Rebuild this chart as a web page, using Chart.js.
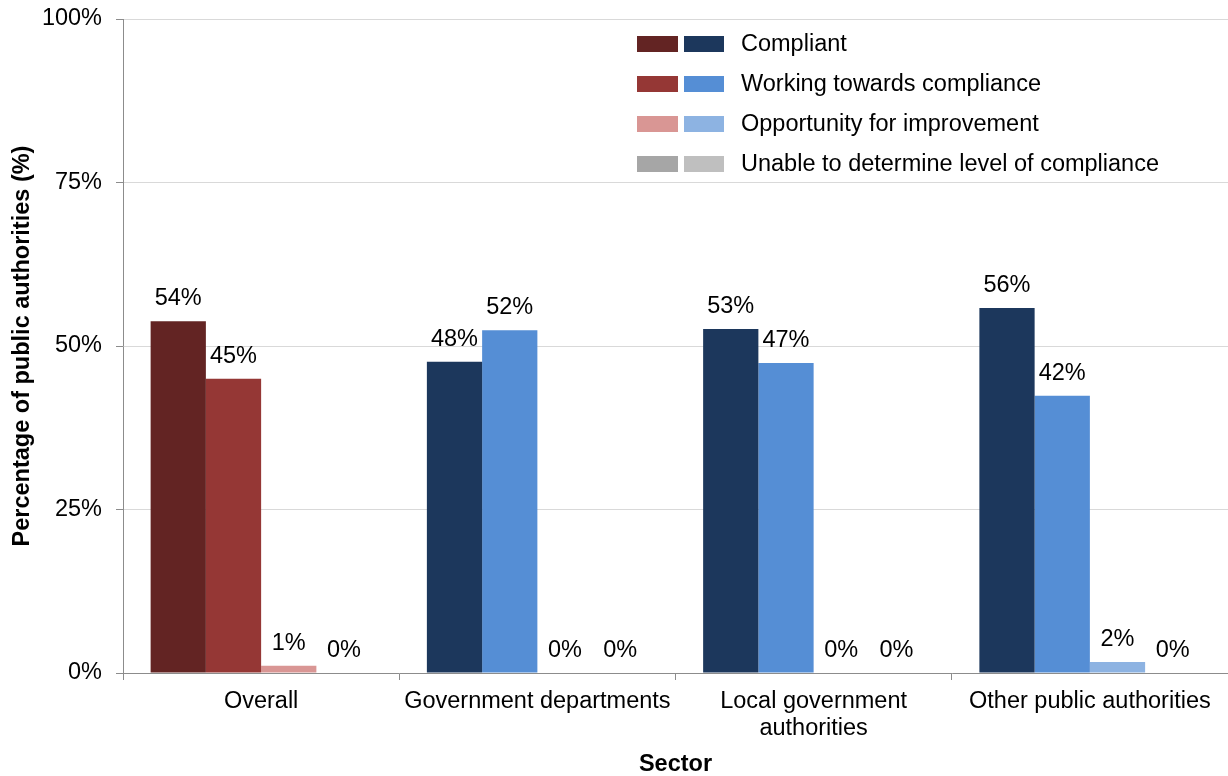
<!DOCTYPE html>
<html>
<head>
<meta charset="utf-8">
<title>Compliance by sector</title>
<script src="https://cdn.jsdelivr.net/npm/chart.js@4.4.1/dist/chart.umd.min.js"></script>
<style>
  html, body { margin: 0; padding: 0; background: #fff; }
  canvas { display: block; }
</style>
</head>
<body>
<canvas id="chart" width="1228" height="776"></canvas>
<script>
// sectors on the x axis
const sectors = ['Overall', 'Government departments', ['Local government', 'authorities'], 'Other public authorities'];

// share of public authorities (%) per level of compliance
const compliant   = [53.8, 47.6, 52.6, 55.8];
const working     = [45.0, 52.4, 47.4, 42.4];
const opportunity = [1.1, 0, 0, 1.7];
const unable      = [0, 0, 0, 0];

const seriesNames = [
    'Compliant',
    'Working towards compliance',
    'Opportunity for improvement',
    'Unable to determine level of compliance'
];

// overall is shown in reds, the individual sectors in blues
const overallColors = ['#632423', '#953735', '#d99694', '#a6a6a6'];
const sectorColors  = ['#1c375c', '#558ed5', '#8db3e2', '#bfbfbf'];

const yTicks = [0, 25, 50, 75, 100];

const FONT = '"Liberation Sans", Arial, Helvetica, sans-serif';
const FONT_SIZE = 23.5;
Chart.defaults.font.family = FONT;
Chart.defaults.font.size = FONT_SIZE;
Chart.defaults.color = '#000';

let values = [compliant, working, opportunity, unable];

let datasets = values.map(function (data, i) {
    return {
        label: seriesNames[i],
        data: data,
        // first category (Overall) gets the red palette
        backgroundColor: sectors.map((s, j) => j === 0 ? overallColors[i] : sectorColors[i]),
        borderWidth: 0,
        categoryPercentage: 0.8,
        barPercentage: 1.0
    };
});

// value labels above every bar
const barLabels = {
    id: 'barLabels',
    afterDatasetsDraw(chart) {
        const ctx = chart.ctx;
        ctx.save();
        ctx.font = FONT_SIZE + 'px ' + FONT;
        ctx.fillStyle = '#000';
        ctx.textAlign = 'center';
        ctx.textBaseline = 'alphabetic';
        chart.data.datasets.forEach(function (ds, i) {
            chart.getDatasetMeta(i).data.forEach(function (bar, j) {
                ctx.fillText(Math.round(ds.data[j]) + '%', bar.x, bar.y - 16);
            });
        });
        ctx.restore();
    }
};

// legend inside the plot: a red and a blue swatch per series
const pairLegend = {
    id: 'pairLegend',
    afterDraw(chart) {
        const ctx = chart.ctx;
        const area = chart.chartArea;
        const x0 = area.left + 514;
        ctx.save();
        ctx.font = FONT_SIZE + 'px ' + FONT;
        ctx.textAlign = 'left';
        ctx.textBaseline = 'middle';
        seriesNames.forEach(function (name, i) {
            const cy = area.top + 25 + i * 40;
            ctx.fillStyle = overallColors[i];
            ctx.fillRect(x0, cy - 8, 41, 16);
            ctx.fillStyle = sectorColors[i];
            ctx.fillRect(x0 + 47, cy - 8, 40, 16);
            ctx.fillStyle = '#000';
            ctx.fillText(name, x0 + 104, cy + 1);
        });
        ctx.restore();
    }
};

chart = new Chart(document.getElementById('chart'), {
    type: 'bar',
    data: { labels: sectors, datasets: datasets },
    options: {
        responsive: false,
        animation: false,
        devicePixelRatio: 1,
        layout: { padding: { top: 19, right: 0, bottom: 0, left: 0 } },
        plugins: {
            legend: { display: false },
            tooltip: { enabled: false }
        },
        scales: {
            x: {
                grid: {
                    offset: true,
                    drawOnChartArea: false,
                    tickLength: 7,
                    tickColor: '#8c8c8c'
                },
                border: { color: '#8c8c8c', width: 1 },
                ticks: {
                    padding: 8,
                    maxRotation: 0,
                    autoSkip: false,
                    font: { size: FONT_SIZE, lineHeight: 1.16 }
                },
                title: {
                    display: true,
                    text: 'Sector',
                    font: { size: FONT_SIZE, weight: 'bold', lineHeight: 1.0 },
                    padding: { top: 0, bottom: 0 }
                },
                afterFit(scale) { scale.height = 103; }
            },
            y: {
                min: 0,
                max: 100,
                afterBuildTicks(scale) {
                    scale.ticks = yTicks.map(v => ({ value: v }));
                },
                grid: {
                    color: '#d9d9d9',
                    tickColor: '#8c8c8c',
                    tickLength: 7
                },
                border: { color: '#8c8c8c', width: 1 },
                ticks: {
                    padding: 14,
                    callback: v => v + '%'
                },
                title: {
                    display: true,
                    text: 'Percentage of public authorities (%)',
                    font: { size: FONT_SIZE, weight: 'bold', lineHeight: 1.0 },
                    padding: { top: 11, bottom: 0 }
                },
                // fixed axis width; the tick padding should not push the plot down
                afterFit(scale) {
                    scale.width = 123;
                    scale.paddingTop = 0;
                    scale.paddingBottom = 0;
                }
            }
        }
    },
    plugins: [barLabels, pairLegend]
});
</script>
</body>
</html>
